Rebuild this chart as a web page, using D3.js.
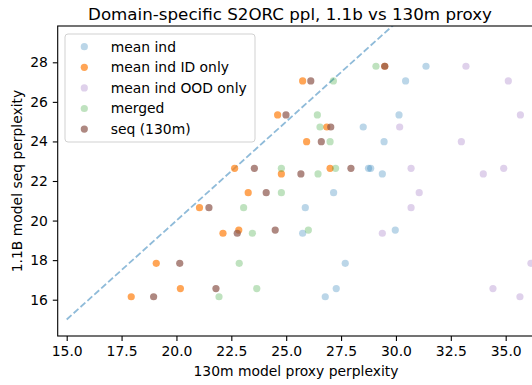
<!DOCTYPE html>
<html>
<head>
<meta charset="utf-8">
<script src="https://cdn.jsdelivr.net/npm/d3@7"></script>
<style>
  html, body { margin: 0; padding: 0; background: #fff; }
  svg { display: block; font-family: "DejaVu Sans", sans-serif; }
</style>
</head>
<body>
<svg id="chart" width="532" height="385"></svg>
<script>
// ---- data ----
const seqPpl1B   = [27.80, 27.06, 25.34, 24.73, 23.99, 22.64, 22.64, 22.36, 21.41, 20.65, 19.52, 19.36, 17.84, 16.56, 16.15];
const meanInd    = [31.37, 30.44, 30.14, 28.51, 29.46, 28.75, 28.85, 29.38, 27.16, 25.87, 29.97, 25.75, 27.69, 27.28, 26.78];
const meanIndID  = [29.49, 25.75, 24.61, 26.85, 25.93, 22.65, 27.00, 24.78, 23.27, 21.05, 22.84, 22.12, 19.08, 20.18, 17.94];
const meanIndOOD = [33.19, 35.12, 35.67, 30.17, 32.98, 30.69, 34.91, 33.98, 31.06, 30.69, null, 29.38, 36.15, 34.42, 35.65];
const merged     = [29.09, 27.15, 26.42, 26.54, 27.00, 24.78, 27.25, 26.45, 24.78, 23.06, 26.01, 23.46, 22.86, 23.66, 21.94];
const seq130m    = [29.49, 26.12, 24.99, 27.03, 26.60, 23.55, 27.95, 25.67, 24.09, 21.48, 24.50, 22.77, 20.15, 21.80, 18.96];
const seriesNames = ["mean ind", "mean ind ID only", "mean ind OOD only", "merged", "seq (130m)"];
const xTicks = [15.0, 17.5, 20.0, 22.5, 25.0, 27.5, 30.0, 32.5, 35.0];
const yTicks = [16, 18, 20, 22, 24, 26, 28];
const diagLine = [15, 30];

// ---- layout ----
const colors = ["#1f77b4", "#ff7f0e", "#9467bd", "#2ca02c", "#8c564b"];
const alphas = [0.3, 0.7, 0.3, 0.3, 0.7];
const seriesX = [meanInd, meanIndID, meanIndOOD, merged, seq130m];

const L = 57.7, R = 534, T = 26, B = 336;
const x = d3.scaleLinear().domain([14.59, 36.29]).range([L, R]);
const y = d3.scaleLinear().domain([14.165, 29.835]).range([B, T]);

const svg = d3.select("#chart");

svg.append("defs").append("clipPath").attr("id", "clip")
  .append("rect").attr("x", L).attr("y", T).attr("width", R - L).attr("height", B - T);

const plot = svg.append("g").attr("clip-path", "url(#clip)");

// diagonal
plot.append("line")
  .attr("x1", x(diagLine[0])).attr("y1", y(diagLine[0]))
  .attr("x2", x(diagLine[1])).attr("y2", y(diagLine[1]))
  .attr("stroke", "#1f77b4").attr("stroke-opacity", 0.5)
  .attr("stroke-width", 1.8).attr("stroke-dasharray", "6.5,2.8");

// points
seriesX.forEach((xs, si) => {
  const pts = xs.map((v, i) => ({ x: v, y: seqPpl1B[i] })).filter(d => d.x !== null);
  plot.append("g").selectAll("circle").data(pts).join("circle")
    .attr("cx", d => x(d.x)).attr("cy", d => y(d.y)).attr("r", 3.6)
    .attr("fill", colors[si]).attr("fill-opacity", alphas[si]);
});

// axes
const xAxis = d3.axisBottom(x).tickValues(xTicks).tickFormat(d3.format(".1f")).tickSize(4.9).tickPadding(4.9);
const yAxis = d3.axisLeft(y).tickValues(yTicks).tickFormat(d3.format("d")).tickSize(4.9).tickPadding(4.9);

const gx = svg.append("g").attr("transform", `translate(0,${B})`).call(xAxis);
const gy = svg.append("g").attr("transform", `translate(${L},0)`).call(yAxis);
[gx, gy].forEach(g => {
  g.select(".domain").remove();
  g.selectAll(".tick line").attr("stroke", "#000").attr("stroke-width", 1.1);
  g.selectAll(".tick text").attr("fill", "#000").style("font-size", "13.9px").style("font-family", "DejaVu Sans");
});

// spines
svg.append("rect").attr("x", L).attr("y", T).attr("width", R - L).attr("height", B - T)
  .attr("fill", "none").attr("stroke", "#000").attr("stroke-width", 1.1);

// title & labels
svg.append("text").attr("x", 290).attr("y", 20).attr("text-anchor", "middle")
  .style("font-size", "16.7px").text("Domain-specific S2ORC ppl, 1.1b vs 130m proxy");
svg.append("text").attr("x", 296).attr("y", 376).attr("text-anchor", "middle")
  .style("font-size", "13.9px").text("130m model proxy perplexity");
svg.append("text").attr("transform", `translate(22,${(T + B) / 2}) rotate(-90)`)
  .attr("text-anchor", "middle").style("font-size", "13.9px").text("1.1B model seq perplexity");

// legend
const lg = svg.append("g");
lg.append("rect").attr("x", 65).attr("y", 34).attr("width", 190).attr("height", 108)
  .attr("rx", 3).attr("fill", "#fff").attr("fill-opacity", 0.8)
  .attr("stroke", "#ccc").attr("stroke-width", 0.9);
seriesNames.forEach((n, i) => {
  const cy = 46.7 + i * 20.6;
  lg.append("circle").attr("cx", 84.3).attr("cy", cy).attr("r", 3.6)
    .attr("fill", colors[i]).attr("fill-opacity", alphas[i]);
  lg.append("text").attr("x", 110.7).attr("y", cy).attr("dy", "0.35em")
    .style("font-size", "13.9px").text(n);
});
</script>
</body>
</html>
